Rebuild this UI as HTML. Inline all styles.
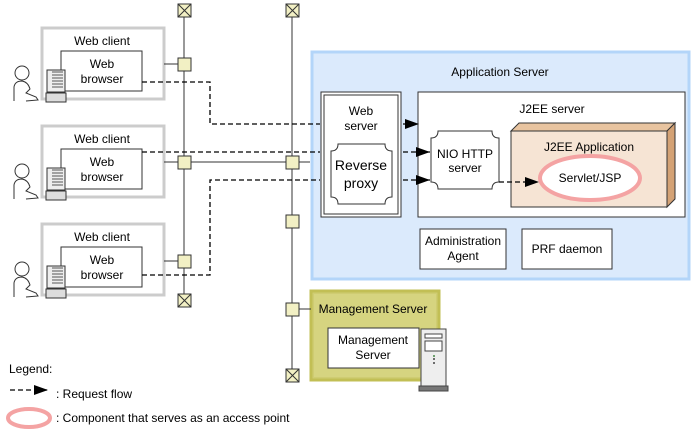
<!DOCTYPE html>
<html><head><meta charset="utf-8"><style>
body{margin:0;background:#fff}
text{font-family:"Liberation Sans",sans-serif;font-size:12px;fill:#000}
</style></head><body>
<svg width="693" height="432" viewBox="0 0 693 432" xmlns="http://www.w3.org/2000/svg">
<defs>
<marker id="ar" markerWidth="14" markerHeight="10" refX="14" refY="5" orient="auto" markerUnits="userSpaceOnUse"><path d="M0,0 L14,5 L0,10z" fill="#000"/></marker>
<g id="term"><rect x="-6.5" y="-6.5" width="13" height="13" fill="#f2f0c4" stroke="#333"/><path d="M-6.5,-6.5 L6.5,6.5 M6.5,-6.5 L-6.5,6.5" stroke="#333"/></g>
<rect id="node" x="-6.5" y="-6.5" width="13" height="13" fill="#f2f0c4" stroke="#333"/>
<g id="person">
<circle cx="0" cy="0" r="7" fill="#fff" stroke="#333"/>
<path d="M-8,28 L-8,14 Q-7,8 0,8 Q6,9 8,16 L4,20 L14,24 L16,27 L4,28" fill="#fff" stroke="#333"/>
</g>
<g id="pc">
<rect x="0" y="0" width="18" height="22" fill="#eee" stroke="#333"/>
<path d="M5,2 h11 M5,5 h11 M5,8 h11 M5,11 h11 M5,14 h11 M5,17 h11" stroke="#555"/>
<rect x="-1" y="23" width="20" height="9" fill="#ddd" stroke="#333"/>
</g>
</defs>

<rect x="312" y="52" width="377" height="227" fill="#dbeafc" stroke="#b3d5f9" stroke-width="3"/>
<text x="500" y="76" text-anchor="middle">Application Server</text>

<rect x="311" y="291" width="128" height="89" fill="#cfcc72" stroke="#c2bf55" stroke-width="3"/>
<rect x="314" y="294" width="122" height="83" fill="#d6d480"/>
<text x="373" y="313" text-anchor="middle">Management Server</text>
<rect x="328" y="328" width="91" height="40" fill="#fff" stroke="#333"/>
<text x="373" y="344" text-anchor="middle">Management</text>
<text x="373" y="359" text-anchor="middle">Server</text>
<g>
<rect x="421" y="329" width="25" height="57" fill="#eee" stroke="#444"/>
<rect x="425" y="334" width="17" height="4" fill="#fff" stroke="#444"/>
<rect x="425" y="341" width="17" height="10" fill="#fff" stroke="#444"/>
<circle cx="434" cy="356" r="1" fill="#484"/><circle cx="434" cy="359" r="1" fill="#444"/><circle cx="434" cy="363" r="1" fill="#444"/>
<rect x="419" y="386" width="29" height="5" fill="#777" stroke="#444"/>
</g>

<g id="wc">
<rect x="42" y="28" width="122" height="71" fill="#fff" stroke="#ccc" stroke-width="3"/>
<text x="102" y="45" text-anchor="middle">Web client</text>
<rect x="61" y="51" width="81" height="40" fill="#fff" stroke="#333"/>
<text x="102" y="68" text-anchor="middle">Web</text>
<text x="102" y="83" text-anchor="middle">browser</text>
<use href="#person" x="22" y="73"/>
<use href="#pc" x="47" y="70"/>
</g>
<use href="#wc" y="98"/>
<use href="#wc" y="196"/>

<path d="M184,10 V300 M292,10 V375" stroke="#333"/>
<path d="M164,64 H184 M164,162 H310 M164,261 H184 M292,309 H311" stroke="#333"/>
<use href="#term" x="184.5" y="10.5"/>
<use href="#term" x="184.5" y="300.5"/>
<use href="#term" x="292.5" y="10.5"/>
<use href="#term" x="292.5" y="375.5"/>
<use href="#node" x="184.5" y="64.5"/>
<use href="#node" x="184.5" y="162.5"/>
<use href="#node" x="184.5" y="261.5"/>
<use href="#node" x="292.5" y="162.5"/>
<use href="#node" x="292.5" y="221.5"/>
<use href="#node" x="292.5" y="309.5"/>

<g fill="none" stroke="#000" stroke-width="1.3" stroke-dasharray="5,3">
<path d="M142,82 H210 V124 H320"/>
<path d="M142,152 H320"/>
<path d="M142,275 H210 V180 H320"/>
</g>

<rect x="321" y="92" width="80" height="125" fill="#fff" stroke="#333"/>
<rect x="324" y="95" width="74" height="119" fill="#fff" stroke="#333"/>
<text x="361" y="115" text-anchor="middle">Web</text>
<text x="361" y="130" text-anchor="middle">server</text>
<path d="M338,144 H385 Q385,151 392,151 V197 Q385,197 385,204 H338 Q338,197 331,197 V151 Q338,151 338,144Z" fill="#fff" stroke="#333"/>
<text x="361" y="170" text-anchor="middle" style="font-size:14px">Reverse</text>
<text x="361" y="188" text-anchor="middle" style="font-size:14px">proxy</text>

<rect x="418" y="92" width="267" height="125" fill="#fff" stroke="#333"/>
<text x="552" y="113" text-anchor="middle">J2EE server</text>
<g fill="none" stroke="#000" stroke-width="1.3" stroke-dasharray="5,3">
<path d="M403,124 H419" marker-end="url(#ar)"/>
<path d="M403,152 H430" marker-end="url(#ar)"/>
<path d="M403,180 H430" marker-end="url(#ar)"/>
</g>
<path d="M438,131 H492 Q492,138 499,138 V182 Q492,182 492,189 H438 Q438,182 431,182 V138 Q438,138 438,131Z" fill="#fff" stroke="#333"/>
<text x="465" y="158" text-anchor="middle">NIO HTTP</text>
<text x="465" y="172" text-anchor="middle">server</text>

<path d="M511,131 L519,123 H675 L667,131Z" fill="#e8c4a0" stroke="#333"/>
<path d="M667,131 L675,123 V199 L667,207Z" fill="#d4a275" stroke="#333"/>
<rect x="511" y="131" width="156" height="76" fill="#f6e4d4" stroke="#333"/>
<text x="589" y="151" text-anchor="middle">J2EE Application</text>
<path d="M499,182 H539" fill="none" stroke="#000" stroke-width="1.3" stroke-dasharray="5,3" marker-end="url(#ar)"/>
<ellipse cx="590" cy="178" rx="50" ry="22" fill="#fff" stroke="#f4a3a3" stroke-width="4"/>
<text x="590" y="182" text-anchor="middle">Servlet/JSP</text>

<rect x="420" y="229" width="86" height="40" fill="#fff" stroke="#333"/>
<text x="463" y="245" text-anchor="middle">Administration</text>
<text x="463" y="260" text-anchor="middle">Agent</text>
<rect x="522" y="229" width="90" height="40" fill="#fff" stroke="#333"/>
<text x="567" y="253" text-anchor="middle">PRF daemon</text>

<text x="9" y="373">Legend:</text>
<path d="M10,390 H48" fill="none" stroke="#000" stroke-width="1.3" stroke-dasharray="5,3" marker-end="url(#ar)"/>
<text x="56" y="398">: Request flow</text>
<ellipse cx="29" cy="418" rx="21" ry="9" fill="#fff" stroke="#f4a3a3" stroke-width="4"/>
<text x="56" y="422">: Component that serves as an access point</text>
</svg>
</body></html>
